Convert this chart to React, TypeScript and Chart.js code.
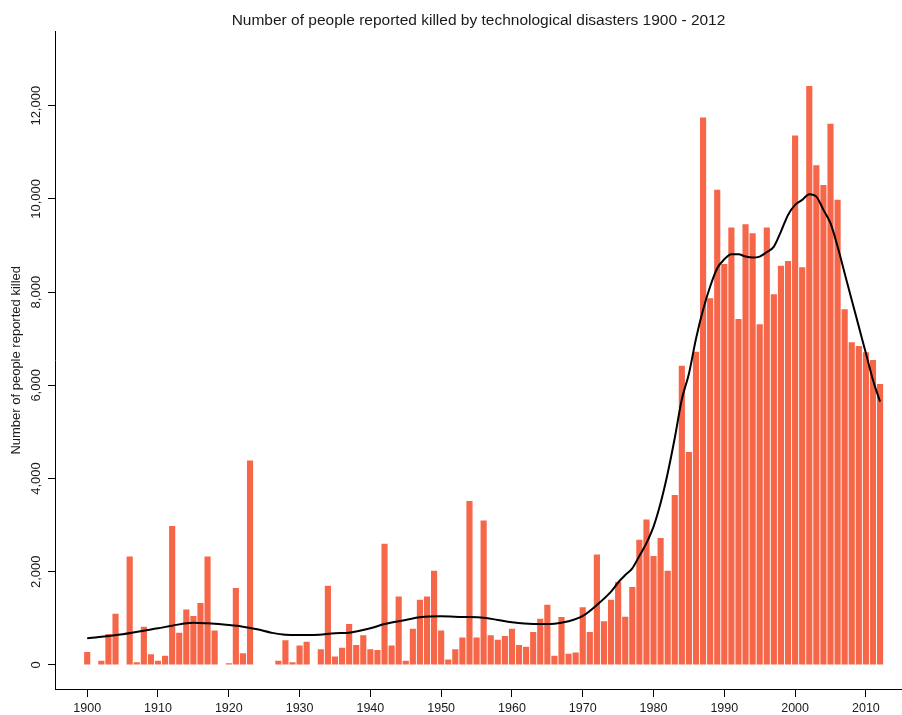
import React, { useEffect, useRef } from "react";
import { Chart, registerables } from "chart.js";

Chart.register(...registerables);

const TITLE = "Number of people reported killed by technological disasters 1900 - 2012";
const Y_TITLE = "Number of people reported killed";
const FIRST_YEAR = 1900;

// Annual number of people reported killed, 1900 ... 2012
const KILLED: number[] = [
  280, 0, 90, 665, 1100, 0, 2330, 60, 820, 230, // 1900-1909
  90, 200, 2980, 690, 1190, 1050, 1330, 2330, 740, 0, // 1910-1919
  40, 1650, 250, 4390, 0, 0, 0, 90, 530, 60, // 1920-1929
  420, 500, 0, 340, 1700, 180, 370, 880, 430, 640, // 1930-1939
  340, 320, 2600, 420, 1470, 90, 780, 1400, 1470, 2020, // 1940-1949
  740, 120, 340, 590, 3520, 590, 3100, 640, 540, 620, // 1950-1959
  780, 430, 390, 710, 990, 1290, 200, 1030, 240, 270, // 1960-1969
  1240, 710, 2370, 940, 1400, 1780, 1035, 1675, 2685, 3120, // 1970-1979
  2340, 2725, 2020, 3650, 6420, 4570, 6720, 11745, 7870, 10195, // 1980-1989
  8605, 9385, 7425, 9455, 9265, 7310, 9385, 7955, 8565, 8670, // 1990-1999
  11360, 8535, 12425, 10725, 10300, 11615, 9980, 7635, 6925, 6845, // 2000-2009
  6710, 6545, 6030, // 2010-2012
];
const YEARS: number[] = KILLED.map((_, i) => FIRST_YEAR + i);

// Smoothed trend line
const SMOOTH_YEARS: number[] = [
  1900, 1905, 1908, 1910, 1912, 1915, 1917, 1920, 1922, 1924, 1926, 1928, 1932, 1935, 1937,
  1940, 1942, 1945, 1947, 1950, 1953, 1956, 1958, 1960, 1963, 1966, 1968, 1970, 1972, 1974,
  1975, 1976, 1977, 1978, 1979, 1980, 1981, 1982, 1983, 1984, 1985, 1986, 1987, 1988, 1989,
  1990, 1991, 1992, 1993, 1994, 1995, 1996, 1997, 1998, 1999, 2000, 2001, 2002, 2003, 2004,
  2005, 2006, 2007, 2008, 2009, 2010, 2011, 2012,
];
const SMOOTH_VALUES: number[] = [
  572, 659, 737, 787, 844, 908, 894, 858, 823, 765, 694, 651, 644, 680, 694,
  787, 880, 966, 1023, 1045, 1030, 1016, 966, 916, 880, 887, 937, 1052, 1288, 1574,
  1770, 1930, 2075, 2340, 2615, 2968, 3475, 4114, 4870, 5700, 6250, 7000, 7620, 8120, 8513,
  8705, 8813, 8813, 8763, 8741, 8763, 8860, 8977, 9300, 9657, 9872, 9979, 10101, 10050, 9765,
  9479, 8977, 8405, 7833, 7260, 6689, 6116, 5650,
];

const X_TICKS: number[] = [1900, 1910, 1920, 1930, 1940, 1950, 1960, 1970, 1980, 1990, 2000, 2010];
const Y_TICKS: number[] = [0, 2000, 4000, 6000, 8000, 10000, 12000];

const FONT = "'Liberation Sans', Arial, Helvetica, sans-serif";
const TEXT = "#1a1a1a";
const BAR_COLOR = "#F6674A";

export default function App() {
  const ref = useRef<HTMLCanvasElement | null>(null);

  useEffect(() => {
    if (!ref.current) return;
    Chart.defaults.font.family = FONT;
    const chart = new Chart(ref.current, {
      type: "bar",
      data: {
        datasets: [
          {
            type: "line",
            label: "Smoothed",
            data: SMOOTH_YEARS.map((x, i) => ({ x, y: SMOOTH_VALUES[i] })),
            borderColor: "#000000",
            borderWidth: 2,
            pointRadius: 0,
            fill: false,
            cubicInterpolationMode: "monotone",
            order: 0,
          } as any,
          {
            type: "bar",
            label: "Killed",
            data: YEARS.map((x, i) => ({ x, y: KILLED[i] })),
            backgroundColor: BAR_COLOR,
            borderWidth: 0,
            barPercentage: 0.87,
            categoryPercentage: 1,
            order: 1,
          } as any,
        ],
      },
      options: {
        animation: false,
        responsive: true,
        maintainAspectRatio: false,
        layout: { padding: 0 },
        plugins: {
          legend: { display: false },
          tooltip: { enabled: false },
          title: {
            display: true,
            fullSize: false,
            text: TITLE,
            color: TEXT,
            font: { size: 15.5, weight: "normal", family: FONT },
            padding: { top: 11, bottom: 2 },
          },
        },
        scales: {
          x: {
            type: "linear",
            min: 1895.45,
            max: 2015.1,
            offset: false,
            afterBuildTicks: (s: any) => {
              s.ticks = X_TICKS.map((v) => ({ value: v }));
            },
            afterFit: (s: any) => {
              s.height = 26;
            },
            ticks: {
              color: TEXT,
              font: { size: 12.5, family: FONT },
              padding: 4,
              maxRotation: 0,
              autoSkip: false,
              callback: (v: any) => String(v),
            },
            grid: {
              display: true,
              offset: false,
              drawOnChartArea: false,
              drawTicks: true,
              tickLength: 8,
              color: "#000000",
            },
            border: { display: true, color: "#000000", width: 1 },
          },
          y: {
            type: "linear",
            min: -515,
            max: 13590,
            afterBuildTicks: (s: any) => {
              s.ticks = Y_TICKS.map((v) => ({ value: v }));
            },
            afterFit: (s: any) => {
              s.width = 55;
            },
            ticks: {
              color: TEXT,
              font: { size: 13, family: FONT },
              minRotation: 90,
              maxRotation: 90,
              crossAlign: "center",
              padding: -8.5,
              autoSkip: false,
              callback: (v: any) => Number(v).toLocaleString("en-US"),
            },
            grid: {
              display: true,
              offset: false,
              drawOnChartArea: false,
              drawTicks: true,
              tickLength: 7,
              color: "#000000",
            },
            border: { display: true, color: "#000000", width: 1 },
            title: {
              display: true,
              text: Y_TITLE,
              color: TEXT,
              font: { size: 13, family: FONT },
              padding: { top: 9, bottom: 0 },
            },
          },
        },
      } as any,
    });
    return () => chart.destroy();
  }, []);

  return (
    <div style={{ position: "fixed", left: 0, top: 0, width: 902, height: 715, background: "#ffffff" }}>
      <canvas ref={ref} />
    </div>
  );
}
